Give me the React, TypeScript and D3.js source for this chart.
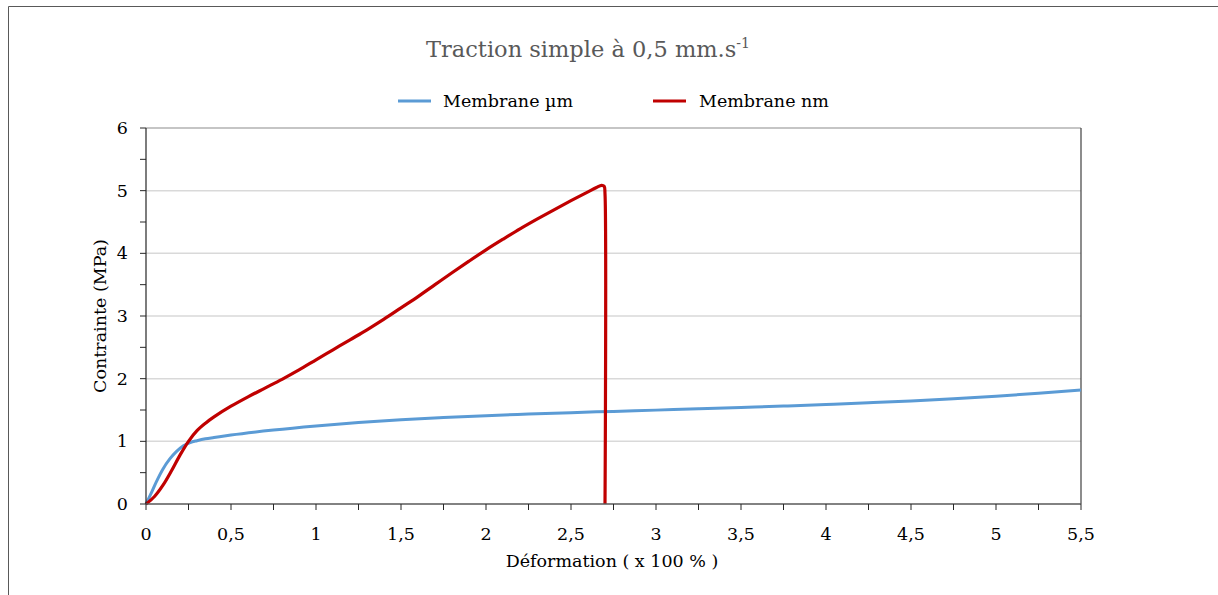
import React from "react";
import * as d3 from "d3";

const xTicks = [0, 0.5, 1, 1.5, 2, 2.5, 3, 3.5, 4, 4.5, 5, 5.5];
const yTicks = [0, 1, 2, 3, 4, 5, 6];

const blueX = [0, 0.03, 0.06, 0.1, 0.14, 0.18, 0.22, 0.26, 0.3, 0.35, 0.4, 0.5, 0.75, 1.0, 1.25, 1.5, 1.75, 2.0, 2.25, 2.5, 2.75, 3.0, 3.25, 3.5, 3.75, 4.0, 4.25, 4.5, 4.75, 5.0, 5.25, 5.5];
const blueY = [0, 0.17, 0.35, 0.56, 0.72, 0.84, 0.93, 0.98, 1.01, 1.04, 1.06, 1.1, 1.18, 1.245, 1.3, 1.345, 1.38, 1.41, 1.435, 1.458, 1.478, 1.498, 1.518, 1.54, 1.563, 1.588, 1.615, 1.645, 1.68, 1.72, 1.767, 1.82];

const redX = [0, 0.05, 0.1, 0.15, 0.2, 0.25, 0.3, 0.35, 0.4, 0.5, 0.6, 0.7, 0.8, 0.9, 1.0, 1.1, 1.2, 1.3, 1.4, 1.5, 1.6, 1.7, 1.8, 1.9, 2.0, 2.1, 2.2, 2.3, 2.4, 2.5, 2.6, 2.65, 2.68, 2.695, 2.7, 2.7];
const redY = [0, 0.12, 0.3, 0.53, 0.78, 1.0, 1.17, 1.29, 1.39, 1.56, 1.71, 1.85, 1.99, 2.14, 2.3, 2.46, 2.62, 2.78, 2.95, 3.13, 3.31, 3.5, 3.69, 3.875, 4.055, 4.225, 4.39, 4.545, 4.695, 4.84, 4.98, 5.05, 5.085, 5.07, 4.95, 0];

const W = 1218;
const H = 595;
const M = { left: 146, right: 1081, top: 128, bottom: 504 };
const FONT = "'DejaVu Serif', serif";

export default function App() {
  const x = d3.scaleLinear().domain([0, 5.5]).range([M.left, M.right]);
  const y = d3.scaleLinear().domain([0, 6]).range([M.bottom, M.top]);

  const blue = blueX.map((v, i) => [v, blueY[i]] as [number, number]);
  const red = redX.map((v, i) => [v, redY[i]] as [number, number]);
  const blueLine = d3
    .line<[number, number]>()
    .x((d) => x(d[0]))
    .y((d) => y(d[1]))
    .curve(d3.curveMonotoneX);
  const redLine = d3
    .line<[number, number]>()
    .x((d) => x(d[0]))
    .y((d) => y(d[1]))
    .curve(d3.curveCatmullRom.alpha(0.5));

  const xMinor = d3.range(0, 5.5001, 0.25);
  const yMinor = d3.range(0, 6.0001, 0.5);

  return (
    <svg
      width={W}
      height={H}
      style={{ position: "absolute", left: 0, top: 0, background: "#fff" }}
      fontFamily={FONT}
    >
      {/* outer frame (partly visible) */}
      <line x1={8.5} y1={6.5} x2={W} y2={6.5} stroke="#595959" strokeWidth={1} />
      <line x1={8.5} y1={6.5} x2={8.5} y2={H} stroke="#595959" strokeWidth={1} />

      {/* title */}
      <text x={588} y={57} textAnchor="middle" fontSize={22.5} fill="#595959">
        Traction simple à 0,5 mm.s
        <tspan dy={-9} fontSize={14}>-1</tspan>
      </text>

      {/* legend */}
      <line x1={398} x2={431} y1={101} y2={101} stroke="#5B9BD5" strokeWidth={3} />
      <text x={443} y={107} fontSize={17.5} fill="#000">Membrane µm</text>
      <line x1={653} x2={686} y1={101} y2={101} stroke="#C00000" strokeWidth={3} />
      <text x={699} y={107} fontSize={17.5} fill="#000">Membrane nm</text>

      {/* gridlines */}
      {yTicks.slice(1, -1).map((t) => (
        <line key={"g" + t} x1={M.left} x2={M.right} y1={y(t)} y2={y(t)} stroke="#d9d9d9" strokeWidth={1.5} />
      ))}
      <line x1={M.left} x2={M.right} y1={y(6)} y2={y(6)} stroke="#8c8c8c" strokeWidth={1.2} />
      <line x1={M.right} x2={M.right} y1={M.top} y2={M.bottom} stroke="#404040" strokeWidth={1.2} />

      {/* series */}
      <path d={blueLine(blue) || ""} fill="none" stroke="#5B9BD5" strokeWidth={3} />
      <path d={redLine(red) || ""} fill="none" stroke="#C00000" strokeWidth={3.2} strokeLinejoin="round" />

      {/* axes */}
      <line x1={M.left} x2={M.left} y1={M.top} y2={M.bottom} stroke="#262626" strokeWidth={1.2} />
      <line x1={M.left} x2={M.right} y1={M.bottom} y2={M.bottom} stroke="#595959" strokeWidth={1.5} />
      {yMinor.map((t) => (
        <line key={"yt" + t} x1={M.left - 6} x2={M.left} y1={y(t)} y2={y(t)} stroke="#262626" strokeWidth={1} />
      ))}
      {xMinor.map((t) => (
        <line key={"xt" + t} x1={x(t)} x2={x(t)} y1={M.bottom} y2={M.bottom + 6} stroke="#262626" strokeWidth={1} />
      ))}
      {yTicks.map((t) => (
        <text key={"yl" + t} x={128} y={y(t) + 6} textAnchor="end" fontSize={17.5} fill="#000">
          {String(t)}
        </text>
      ))}
      {xTicks.map((t) => (
        <text key={"xl" + t} x={x(t)} y={540} textAnchor="middle" fontSize={17.5} fill="#000">
          {String(t).replace(".", ",")}
        </text>
      ))}

      {/* axis titles */}
      <text x={612} y={567} textAnchor="middle" fontSize={17.5} fill="#000">
        Déformation ( x 100 % )
      </text>
      <text
        transform={`translate(106,316) rotate(-90)`}
        textAnchor="middle"
        fontSize={17.5}
        fill="#000"
      >
        Contrainte (MPa)
      </text>
    </svg>
  );
}
